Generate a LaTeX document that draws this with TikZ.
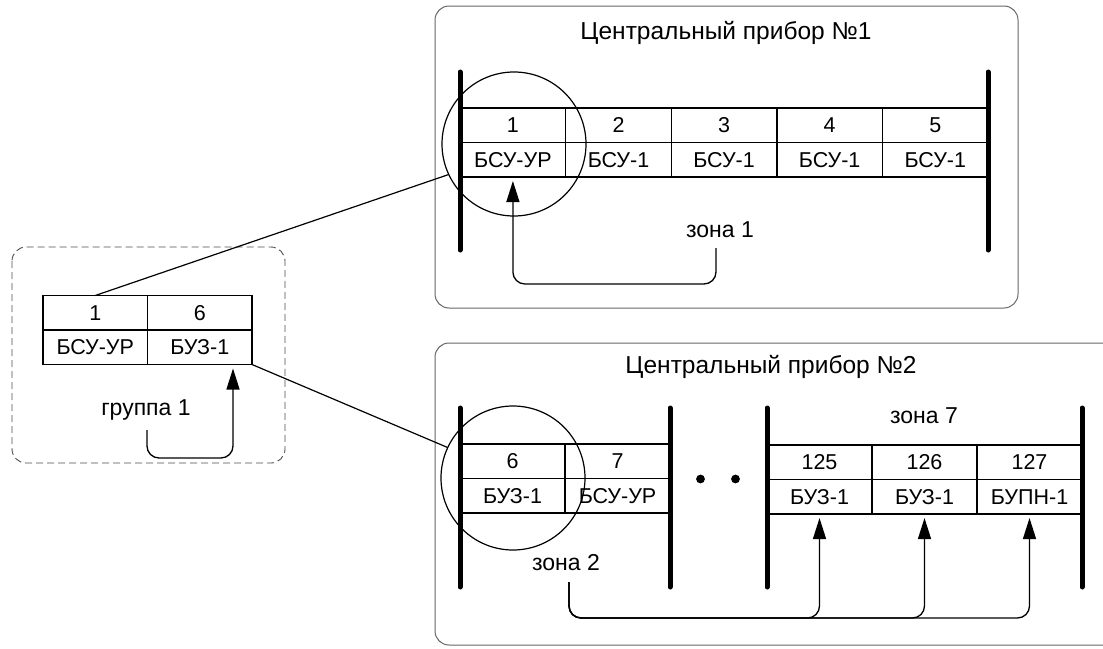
\documentclass[tikz,border=0pt]{standalone}
\usepackage{fontspec}
\setmainfont{Liberation Sans}
\usetikzlibrary{arrows.meta, positioning, calc}

\begin{document}
\begin{tikzpicture}[
    x=1pt, y=-1pt,
    node distance=0pt,
    cell/.style={draw, rectangle, line width=1.1pt, outer sep=0pt, inner sep=0pt, minimum height=34.5pt, minimum width=105.8pt, font=\fontsize{21.5}{24}\selectfont},
    devbox/.style={draw=black!60, line width=1pt, rounded corners=14pt},
    groupbox/.style={draw=black!70, dash pattern=on 7pt off 4pt, line width=0.9pt, rounded corners=14pt},
    bus/.style={line width=5pt, line cap=round},
    ring/.style={draw, circle, line width=1.2pt, minimum size=144pt, inner sep=0pt},
    link/.style={draw, line width=1.2pt},
    zarrow/.style={draw, line width=1.3pt, rounded corners=12pt, -{Triangle[length=21pt, width=13pt]}, shorten >=4pt},
    zonetext/.style={font=\fontsize{23}{25}\selectfont},
    devtitle/.style={font=\fontsize{24.5}{27}\selectfont}
]
    \useasboundingbox (0,0) rectangle (1103,648);

    % central device 1
    \draw[devbox] (435,6) rectangle (1018,308);
    \node[devtitle] (t1) at (726,33) {Центральный прибор №1};
    \draw[bus] (460,72) -- (460,250);
    \draw[bus] (988,72) -- (988,250);
    \foreach \n/\t [count=\k] in {1/БСУ-УР,2/БСУ-1,3/БСУ-1,4/БСУ-1,5/БСУ-1} {
        \node[cell, anchor=north west] (n\n) at ({460+105.6*(\k-1)},108) {\n};
        \node[cell, below=of n\n] (u\n) {\t};
    }
    \node[ring] (r1) at (514,144) {};
    \node[zonetext] (z1) at (720,230) {зона 1};
    \coordinate (a1) at (716,248);
    \draw[zarrow] (a1) -- ++(0,36) -| (u1.south);

    % group
    \draw[groupbox] (12,247) rectangle (285,463);
    \node[cell, minimum width=104.5pt, anchor=north west] (g1) at (43,295.5) {1};
    \node[cell, minimum width=104.5pt, right=of g1] (g6) {6};
    \node[cell, minimum width=104.5pt, below=of g1] (gu1) {БСУ-УР};
    \node[cell, minimum width=104.5pt, below=of g6] (gu6) {БУЗ-1};
    \node[zonetext] (gz) at (146,410) {группа 1};
    \coordinate (ga) at (147,430);
    \draw[zarrow] (ga) -- ++(0,28) -| ($(gu6.south east)+(-19,0)$);

    % central device 2
    \draw[devbox] (435,343) rectangle (1130,645);
    \node[devtitle] (t2) at (771,367) {Центральный прибор №2};
    \draw[bus] (460,408) -- (460,587);
    \draw[bus] (670,408) -- (670,587);
    \draw[bus] (767,408) -- (767,587);
    \draw[bus] (1082,408) -- (1082,587);
    \node[cell, minimum width=105pt, anchor=north west] (n6) at (460,444) {6};
    \node[cell, minimum width=105pt, right=of n6] (n7) {7};
    \node[cell, minimum width=105pt, below=of n6] (u6) {БУЗ-1};
    \node[cell, minimum width=105pt, below=of n7] (u7) {БСУ-УР};
    \foreach \n/\t [count=\k] in {125/БУЗ-1,126/БУЗ-1,127/БУПН-1} {
        \node[cell, minimum width=105pt, anchor=north west] (n\n) at ({767+105*(\k-1)},445) {\n};
        \node[cell, minimum width=105pt, below=of n\n] (u\n) {\t};
    }
    \fill (700.5,479) circle (4.4pt);
    \fill (735.5,479) circle (4.4pt);
    \node[ring] (r2) at (513,478) {};
    \node[zonetext] (z7) at (924,416) {зона 7};
    \node[zonetext] (z2) at (566,563) {зона 2};
    \coordinate (a2) at (569,582);
    \draw[zarrow] (a2) -- ++(0,36) -| (u125.south);
    \draw[zarrow] (a2) -- ++(0,36) -| (u126.south);
    \draw[zarrow] (a2) -- ++(0,36) -| (u127.south);

    % links
    \draw[link] (g1.north) -- (r1.205);
    \draw[link] (gu6.south east) -- (r2.155);
\end{tikzpicture}
\end{document}
